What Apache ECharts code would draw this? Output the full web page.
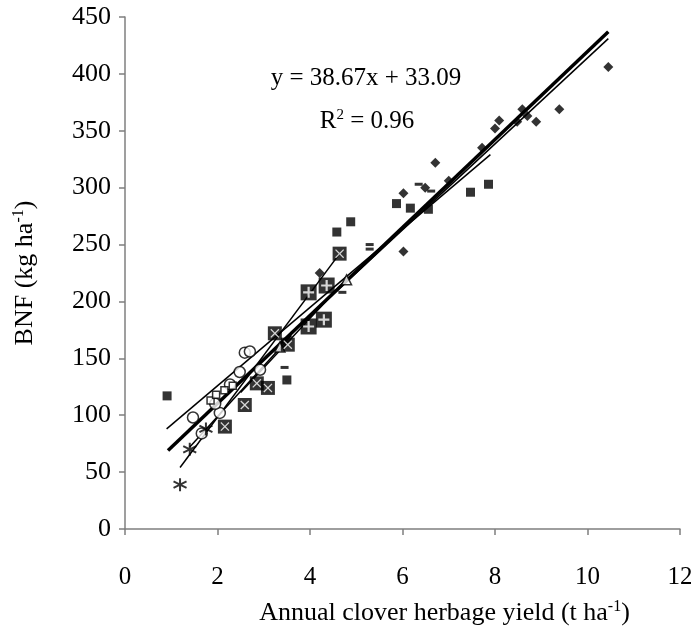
<!DOCTYPE html>
<html>
<head>
<meta charset="utf-8">
<script src="https://cdn.jsdelivr.net/npm/echarts@6/dist/echarts.min.js"></script>
<style>
  html, body { margin: 0; padding: 0; background: #ffffff; }
  #chart { width: 691px; height: 628px; }
</style>
</head>
<body>
<div id="chart"></div>
<script>
// tick labels
const xTicks = [0, 2, 4, 6, 8, 10, 12]
const yTicks = [0, 50, 100, 150, 200, 250, 300, 350, 400, 450]

// point groups: [yield, BNF]
const diamonds = [[4.21, 225], [6.02, 244], [6.02, 295], [6.49, 300], [6.71, 322], [7.0, 306], [7.72, 335],
  [8.0, 352], [8.09, 359], [8.48, 358], [8.59, 369], [8.70, 363], [8.89, 358], [9.39, 369], [10.45, 406]]
const filledSquares = [[0.91, 117], [3.5, 131], [4.58, 261], [4.88, 270], [5.87, 286], [6.17, 282],
  [6.56, 281], [7.47, 296], [7.86, 303]]
const openCircles = [[1.47, 98], [1.66, 84], [2.05, 102], [2.27, 127], [2.48, 138], [2.59, 155],
  [2.70, 156], [2.92, 140], [1.95, 110]]
const asterisks = [[1.19, 39], [1.40, 70], [1.75, 88]]
const openSquares = [[1.85, 113], [1.97, 118], [2.15, 122], [2.33, 126]]
const crossBoxes = [[2.16, 90], [2.59, 109], [2.85, 128], [3.09, 124], [3.24, 172], [3.52, 162], [4.64, 242]]
const plusBoxes = [[3.97, 178], [3.97, 208], [4.30, 184], [4.36, 214]]
const triangles = [[3.35, 160], [4.79, 219]]
const dashes = [[3.45, 142], [4.70, 208], [5.29, 250], [5.29, 246], [6.35, 303], [6.62, 297]]

// fitted lines (end points)
const fitAll = [[0.93, 69], [10.45, 437]]
const fitSquares = [[0.9, 88], [7.9, 329]]
const fitDiamonds = [[4.2, 195], [10.45, 431]]
const fitCross = [[1.19, 54], [4.64, 242]]
const fitCircles = [[1.4, 72], [3.6, 170]]
const fitPlus = [[2.5, 120], [4.8, 220]]

const serif = '"Liberation Serif", "Times New Roman", serif'
const asteriskPath = 'path://M10,0 L10,20 M1.3,5 L18.7,15 M1.3,15 L18.7,5'
const crossPath = 'path://M2,0 L10,8 L18,0 L20,2 L12,10 L20,18 L18,20 L10,12 L2,20 L0,18 L8,10 L0,2 Z'
const plusPath = 'path://M8,0 L12,0 L12,8 L20,8 L20,12 L12,12 L12,20 L8,20 L8,12 L0,12 L0,8 L8,8 Z'

const richText = {
  n: { fontFamily: serif, fontSize: 26, color: '#000' },
  s: { fontFamily: serif, fontSize: 16, color: '#000', verticalAlign: 'top', padding: [0, 0, 12, 0] }
}

function fitLine(data, width) {
  return {
    type: 'line', data, symbol: 'none', silent: true, z: 3,
    lineStyle: { color: '#000000', width }
  }
}

const chart = echarts.init(document.getElementById('chart'))
chart.setOption({
  backgroundColor: '#ffffff',
  animation: false,
  grid: { left: 125, right: 11, top: 17, bottom: 99, outerBoundsMode: 'none' },
  xAxis: {
    type: 'value', min: 0, max: 12, interval: 2,
    name: '{n|Annual clover herbage yield (t ha}{s|-1}{n|)}',
    nameLocation: 'middle', nameGap: 70,
    nameTextStyle: { padding: [0, 0, 0, 84], rich: richText },
    axisLine: { onZero: false, lineStyle: { color: '#7f7f7f', width: 1.5 } },
    axisTick: { show: true, inside: false, length: 6, lineStyle: { color: '#7f7f7f', width: 1.5 } },
    axisLabel: { margin: 36, fontFamily: serif, fontSize: 25, color: '#000',
      formatter: v => xTicks.includes(v) ? String(v) : '' },
    splitLine: { show: false }
  },
  yAxis: {
    type: 'value', min: 0, max: 450, interval: 50,
    name: '{n|BNF (kg ha}{s|-1}{n|)}',
    nameLocation: 'middle', nameGap: 86, nameRotate: 90,
    nameTextStyle: { rich: richText },
    axisLine: { show: true, lineStyle: { color: '#7f7f7f', width: 1.5 } },
    axisTick: { show: true, inside: false, length: 6, lineStyle: { color: '#7f7f7f', width: 1.5 } },
    axisLabel: { margin: 14, fontFamily: serif, fontSize: 26, color: '#000',
      formatter: v => yTicks.includes(v) ? String(v) : '' },
    splitLine: { show: false }
  },
  graphic: [
    { type: 'text', x: 366, y: 78,
      style: { text: 'y = 38.67x + 33.09', font: '25px ' + serif, fill: '#000', align: 'center', verticalAlign: 'middle' } },
    { type: 'text', x: 367, y: 121,
      style: { text: '{n|R}{s|2}{n| = 0.96}', align: 'center', verticalAlign: 'middle', rich: {
        n: { fontFamily: serif, fontSize: 25, fill: '#000' },
        s: { fontFamily: serif, fontSize: 15, fill: '#000', verticalAlign: 'top', padding: [0, 0, 12, 0] }
      } } }
  ],
  series: [
    fitLine(fitSquares, 1.5),
    fitLine(fitDiamonds, 1.5),
    fitLine(fitCross, 1.5),
    fitLine(fitCircles, 1.5),
    fitLine(fitPlus, 1.5),
    fitLine(fitAll, 3.5),
    { type: 'scatter', data: diamonds, symbol: 'diamond', symbolSize: 10, z: 4, itemStyle: { color: '#000' } },
    { type: 'scatter', data: filledSquares, symbol: 'rect', symbolSize: 9, z: 4, itemStyle: { color: '#000' } },
    { type: 'scatter', data: openCircles, symbol: 'circle', symbolSize: 11, z: 4,
      itemStyle: { color: '#fff', borderColor: '#000', borderWidth: 1.5 } },
    { type: 'scatter', data: asterisks, symbol: asteriskPath, symbolSize: 13, z: 4,
      itemStyle: { color: 'none', borderColor: '#000', borderWidth: 2 } },
    { type: 'scatter', data: openSquares, symbol: 'rect', symbolSize: 7, z: 4,
      itemStyle: { color: '#fff', borderColor: '#000', borderWidth: 1.5 } },
    { type: 'scatter', data: crossBoxes, symbol: 'rect', symbolSize: 14, z: 5, itemStyle: { color: '#000' } },
    { type: 'scatter', data: crossBoxes, symbol: crossPath, symbolSize: 9, z: 6, itemStyle: { color: '#fff' } },
    { type: 'scatter', data: plusBoxes, symbol: 'rect', symbolSize: 16, z: 5, itemStyle: { color: '#000' } },
    { type: 'scatter', data: plusBoxes, symbol: plusPath, symbolSize: 11, z: 6, itemStyle: { color: '#fff' } },
    { type: 'scatter', data: triangles, symbol: 'triangle', symbolSize: 10, z: 4,
      itemStyle: { color: '#fff', borderColor: '#000', borderWidth: 1.5 } },
    { type: 'scatter', data: dashes, symbol: 'rect', symbolSize: [8, 3], z: 4, itemStyle: { color: '#000' } }
  ]
})
</script>
</body>
</html>
